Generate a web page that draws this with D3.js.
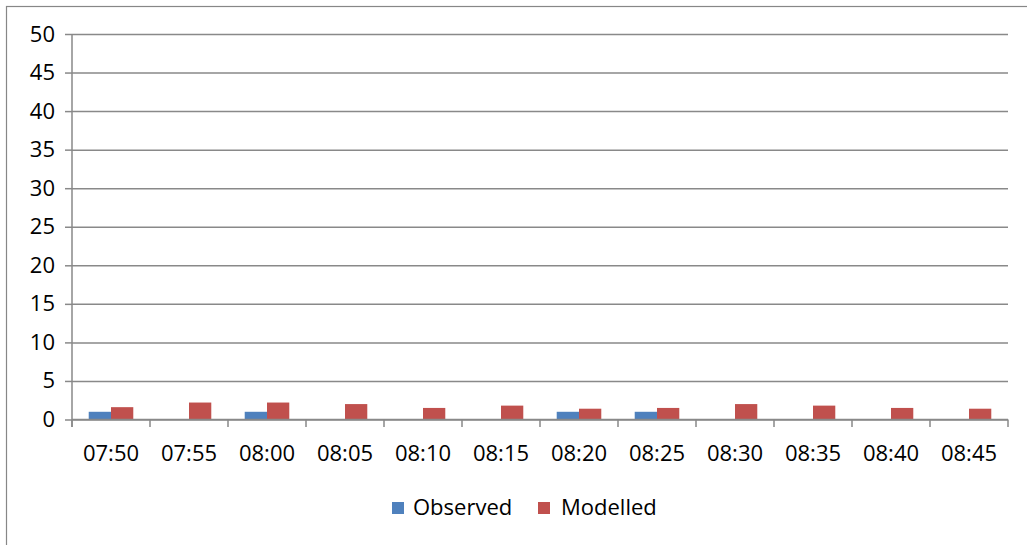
<!DOCTYPE html>
<html>
<head>
<meta charset="utf-8">
<script src="https://cdn.jsdelivr.net/npm/d3@7"></script>
<style>
  html, body { margin: 0; padding: 0; background: #fff; }
  svg { display: block; }
  text { font-family: "Open Sans", sans-serif; fill: #000; }
</style>
</head>
<body>
<svg id="chart" width="1027" height="545"></svg>
<script>
// Time slots on the category axis
const categories = ["07:50", "07:55", "08:00", "08:05", "08:10", "08:15",
                    "08:20", "08:25", "08:30", "08:35", "08:40", "08:45"];
// Counts per time slot
const observed = [1, 0, 1, 0, 0, 0, 1, 1, 0, 0, 0, 0];
const modelled = [1.6, 2.2, 2.2, 2.0, 1.5, 1.8, 1.4, 1.5, 2.0, 1.8, 1.5, 1.4];
const seriesNames = ["Observed", "Modelled"];
const seriesColors = ["#4F81BD", "#C0504D"];
const yTicks = [0, 5, 10, 15, 20, 25, 30, 35, 40, 45, 50];

const svg = d3.select("#chart");
const gridColor = "#898989";
const fontSize = 22;

// Outer frame
svg.append("rect")
  .attr("x", 6.5).attr("y", 6.5)
  .attr("width", 1040).attr("height", 560)
  .attr("fill", "none").attr("stroke", "#878787").attr("stroke-width", 1.2);

const plot = { left: 72, right: 1008, top: 34, bottom: 419.5 };

const x = d3.scaleBand().domain(categories).range([plot.left, plot.right]).padding(0);
const x1 = d3.scaleBand().domain(seriesNames).range([0, x.bandwidth()])
  .paddingInner(0).paddingOuter(0.75);
const y = d3.scaleLinear().domain([0, 50]).range([plot.bottom, plot.top]);

// Horizontal gridlines with left tick marks and labels
const yAxis = d3.axisLeft(y).tickValues(yTicks)
  .tickSize(-(plot.right - plot.left)).tickPadding(17).tickFormat(d3.format("d"));
const gy = svg.append("g").attr("transform", `translate(${plot.left},0)`).call(yAxis);
gy.select(".domain").remove();
gy.selectAll(".tick line").attr("stroke", gridColor).attr("stroke-width", 1.5);
gy.selectAll(".tick").append("line")
  .attr("x1", -7).attr("x2", 0).attr("stroke", gridColor).attr("stroke-width", 1.5);
gy.selectAll(".tick text").attr("font-size", fontSize).attr("font-family", "Open Sans").attr("fill", "#000");

// Bars
const data = categories.map((c, i) => ({ cat: c, values: [observed[i], modelled[i]] }));
const groups = svg.append("g").selectAll("g").data(data).join("g")
  .attr("transform", d => `translate(${x(d.cat)},0)`);
groups.selectAll("rect")
  .data(d => d.values.map((v, j) => ({ name: seriesNames[j], value: v, color: seriesColors[j] })))
  .join("rect")
  .filter(d => d.value > 0)
  .attr("x", d => x1(d.name))
  .attr("y", d => y(d.value))
  .attr("width", x1.bandwidth())
  .attr("height", d => y(0) - y(d.value))
  .attr("fill", d => d.color);

// Vertical axis line
svg.append("line")
  .attr("x1", plot.left).attr("x2", plot.left)
  .attr("y1", plot.top).attr("y2", plot.bottom + 7.5)
  .attr("stroke", gridColor).attr("stroke-width", 1.5);

// Category axis: baseline, boundary ticks, centered labels
svg.append("line")
  .attr("x1", plot.left).attr("x2", plot.right)
  .attr("y1", plot.bottom).attr("y2", plot.bottom)
  .attr("stroke", gridColor).attr("stroke-width", 1.5);
const boundaries = categories.map(c => x(c)).concat([plot.right]);
svg.append("g").selectAll("line").data(boundaries).join("line")
  .attr("x1", d => d).attr("x2", d => d)
  .attr("y1", plot.bottom).attr("y2", plot.bottom + 7.5)
  .attr("stroke", gridColor).attr("stroke-width", 1.5);
svg.append("g").selectAll("text").data(categories).join("text")
  .attr("x", d => x(d) + x.bandwidth() / 2)
  .attr("y", 461)
  .attr("text-anchor", "middle")
  .attr("font-size", fontSize)
  .text(d => d);

// Legend
const legendItems = [
  { name: seriesNames[0], color: seriesColors[0], sx: 392, tx: 413 },
  { name: seriesNames[1], color: seriesColors[1], sx: 538, tx: 561 }
];
const lg = svg.append("g");
legendItems.forEach(it => {
  lg.append("rect").attr("x", it.sx).attr("y", 502).attr("width", 12).attr("height", 12)
    .attr("fill", it.color);
  lg.append("text").attr("x", it.tx).attr("y", 515).attr("font-size", fontSize).text(it.name);
});
</script>
</body>
</html>
